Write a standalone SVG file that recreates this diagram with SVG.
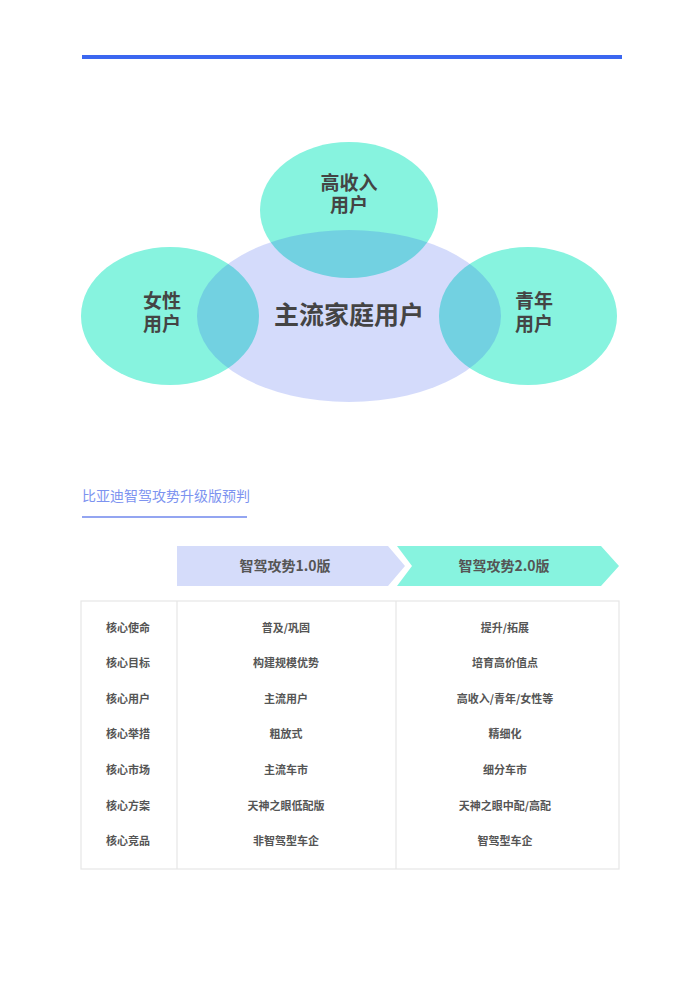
<svg xmlns="http://www.w3.org/2000/svg" width="700" height="981" viewBox="0 0 700 981">
<style>
.t{font-family:"Noto Sans CJK SC","Liberation Sans",sans-serif;font-weight:bold;fill:#444;text-anchor:middle}
.v{font-family:"Liberation Sans","Noto Sans CJK SC",sans-serif;font-size:19px}
.cell{font-size:11px;fill:#555}
.arr{font-size:14px;fill:#555}
.teal{fill:#87F3DF}
.grid{stroke:#E6E6E6;stroke-width:1.2;fill:none}
</style>
<rect width="700" height="981" fill="#fff"/>
<line x1="82" y1="57" x2="622" y2="57" stroke="#3B67F0" stroke-width="4"/>
<g id="venn">
<ellipse id="high-income" class="teal" cx="349" cy="210" rx="89" ry="68"/>
<ellipse id="female" class="teal" cx="170" cy="316" rx="89" ry="69"/>
<ellipse id="youth" class="teal" cx="528" cy="316" rx="89" ry="69"/>
<ellipse id="mainstream" cx="349" cy="316" rx="152" ry="86" fill="#1C41EA" fill-opacity="0.19"/>
</g>
<g id="venn-labels">
<text class="t v" x="349" y="190">高收入</text>
<text class="t v" x="349" y="212">用户</text>
<text class="t v" x="162" y="308">女性</text>
<text class="t v" x="162" y="331">用户</text>
<text class="t v" x="534" y="308">青年</text>
<text class="t v" x="534" y="331">用户</text>
<text class="t" x="349" y="324" font-size="25">主流家庭用户</text>
</g>
<g id="title">
<text x="82" y="501" font-family="Noto Sans CJK SC,Liberation Sans,sans-serif" font-size="14" fill="#7D93F0">比亚迪智驾攻势升级版预判</text>
<line x1="82" y1="517" x2="247" y2="517" stroke="#93A5F1" stroke-width="2"/>
</g>
<g id="arrow-1">
<polygon points="177,546 388,546 405,566 388,586 177,586" fill="#D5DCFA"/>
<text class="t arr" x="285" y="571">智驾攻势1.0版</text>
</g>
<g id="arrow-2">
<polygon points="397,546 601,546 619,566 601,586 397,586 412,566" fill="#87F3DF"/>
<text class="t arr" x="504" y="571">智驾攻势2.0版</text>
</g>
<g id="table">
<rect class="grid" x="81" y="601" width="538" height="268"/>
<line class="grid" x1="177" y1="601" x2="177" y2="869"/>
<line class="grid" x1="396" y1="601" x2="396" y2="869"/>
<g class="t cell">
<text x="128" y="632">核心使命</text>
<text x="128" y="667">核心目标</text>
<text x="128" y="703">核心用户</text>
<text x="128" y="738">核心举措</text>
<text x="128" y="774">核心市场</text>
<text x="128" y="810">核心方案</text>
<text x="128" y="845">核心竞品</text>
<text x="286" y="632">普及/巩固</text>
<text x="286" y="667">构建规模优势</text>
<text x="286" y="703">主流用户</text>
<text x="286" y="738">粗放式</text>
<text x="286" y="774">主流车市</text>
<text x="286" y="810">天神之眼低配版</text>
<text x="286" y="845">非智驾型车企</text>
<text x="505" y="632">提升/拓展</text>
<text x="505" y="667">培育高价值点</text>
<text x="505" y="703">高收入/青年/女性等</text>
<text x="505" y="738">精细化</text>
<text x="505" y="774">细分车市</text>
<text x="505" y="810">天神之眼中配/高配</text>
<text x="505" y="845">智驾型车企</text>
</g>
</g>
</svg>
